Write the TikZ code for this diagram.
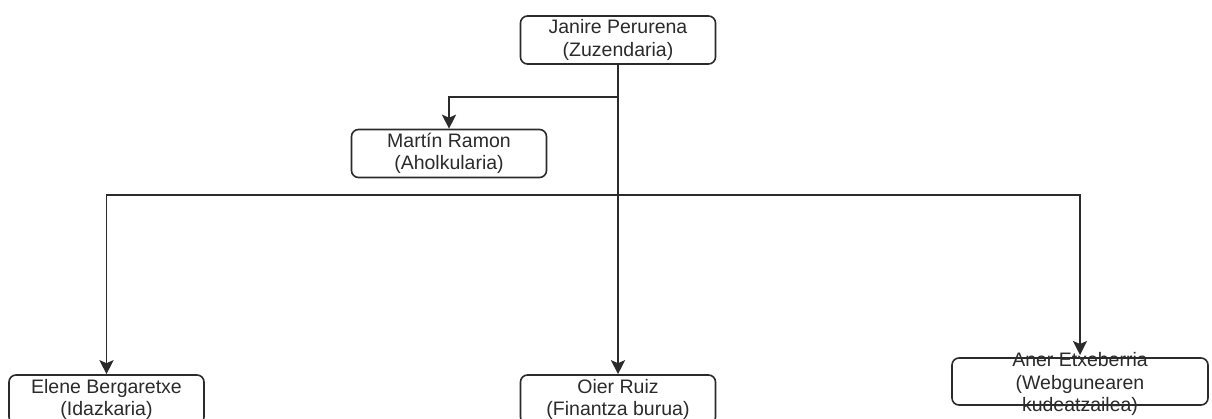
\documentclass[tikz,border=0pt]{standalone}
\usepackage{fontspec}
\setmainfont{Liberation Sans}
\usetikzlibrary{arrows.meta}
\definecolor{ink}{HTML}{2B2B2B}
\begin{document}
\begin{tikzpicture}[x=1pt,y=-1pt,
  person/.style={draw=ink, line width=1.6pt, rounded corners=7pt, fill=white,
    minimum width=195pt, minimum height=48pt, inner sep=0pt, align=center,
    text=ink, font=\fontsize{19.5}{22.5}\selectfont},
  plain/.style={inner sep=0pt, align=center, text=ink, font=\fontsize{19.5}{22.5}\selectfont},
  conn/.style={draw=ink, line width=1.8pt, -{Stealth[length=14pt,width=14pt,inset=3pt]}},
  link/.style={draw=ink, line width=1.8pt}]
\useasboundingbox[fill=white] (0,0) rectangle (1212,419);
\node[person] (top) at (618,40) {Janire Perurena\\(Zuzendaria)};
\node[person] (martin) at (449,153.5) {Martín Ramon\\(Aholkularia)};
\node[person, minimum height=49pt] (elene) at (106.5,399.5) {Elene Bergaretxe\\(Idazkaria)};
\node[person, minimum height=49pt] (oier) at (618,399.5) {Oier Ruiz\\(Finantza burua)};
\node[person, minimum width=256pt, minimum height=47pt] (aner) at (1080,381.5) {};
\node[plain] (anertext) at (1080,384) {Aner Etxeberria\\(Webgunearen\\kudeatzailea)};
\coordinate (j1) at (618,97);
\coordinate (j2) at (618,195);
\coordinate (anerend) at (1080,355);
\draw[conn] (top.south) -- (oier.north);
\draw[conn] (j1) -| (martin.north);
\draw[conn] (j2) -| (elene.north);
\draw[conn] (j2) -| (anerend);
\end{tikzpicture}
\end{document}
